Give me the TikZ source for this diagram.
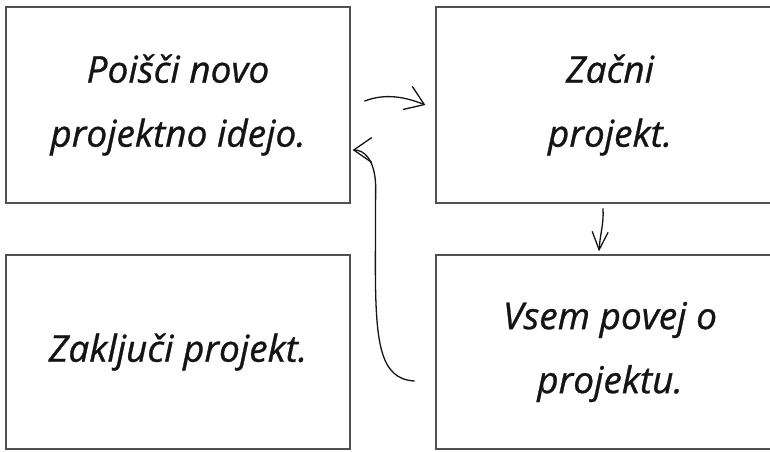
\documentclass[tikz,border=0pt]{standalone}
\usepackage{fontspec}
\setmainfont{Open Sans}[ItalicFeatures={FakeBold=0.8}]
\usetikzlibrary{arrows.meta,calc}
\definecolor{boxline}{HTML}{505050}
\definecolor{ink}{HTML}{141414}
\tikzset{
  card/.style={draw=boxline, line width=1.3pt, inner sep=0pt, align=center,
    font=\fontsize{37}{64}\selectfont\itshape, text=ink},
  flow/.style={draw=ink, line width=1.3pt, line cap=round,
    -{Straight Barb[length=18pt,width=25pt,line width=1.3pt]}}
}
\begin{document}
\begin{tikzpicture}[x=1pt,y=-1pt]
  \useasboundingbox (0,0) rectangle (770,451);
  \fill[white] (0,0) rectangle (770,451);

  % four step cards
  \node[card, minimum width=344pt, minimum height=196pt] (idea)  at (178,105)
    {Poišči novo\\projektno idejo.};
  \node[card, minimum width=348pt, minimum height=196pt] (begin) at (610,105)
    {Začni\\projekt.};
  \node[card, minimum width=344pt, minimum height=194pt] (close) at (178,352)
    {Zaključi projekt.};
  \node[card, minimum width=348pt, minimum height=194pt] (tell)  at (610,352)
    {Vsem povej o\\projektu.};

  % idea -> begin
  \draw[flow] ($(idea.east)+(14,-4)$) .. controls ($(idea.east)+(35,-12)$)
    and ($(begin.west)+(-30,-8)$) .. ($(begin.west)+(-10,0)$);
  % begin -> tell
  \draw[flow, -{Straight Barb[length=18pt,width=16pt,line width=1.3pt]}]
    ($(begin.south)+(-7,5)$) .. controls ($(begin.south)+(-6,20)$)
    and ($(tell.north)+(-10,-20)$) .. ($(tell.north)+(-11,-3)$);
  % tell -> idea (back up the middle)
  \draw[flow] ($(tell.west)+(-21,29)$) .. controls ($(tell.west)+(-56,27)$)
    and ($(tell.west)+(-60,-10)$) .. ($(tell.west)+(-60,-90)$)
    -- ($(idea.east)+(25,80)$) .. controls ($(idea.east)+(24,55)$)
    and ($(idea.east)+(14,45)$) .. ($(idea.east)+(2,45)$);
\end{tikzpicture}
\end{document}
